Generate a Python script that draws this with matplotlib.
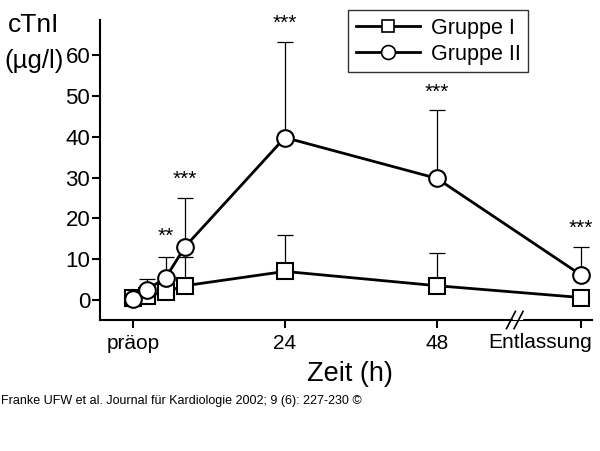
import matplotlib
matplotlib.use("Agg")
import matplotlib.pyplot as plt
from matplotlib.lines import Line2D

plt.rcParams['font.family'] = ['Liberation Sans', 'DejaVu Sans']

# time positions (h); Entlassung sits after the axis break
x_pos = [0, 2.2, 5.2, 8.2, 24, 48, 70.8]
x_ticks = [0, 24, 48, 70.8]
x_ticklabels = ["präop", "24", "48", ""]
last_label = "Entlassung"

# cTnI (ug/l)
g1_mean = [0.5, 1.0, 2.0, 3.5, 7.0, 3.5, 0.6]
g1_err = [0, 0, 0, 7.0, 9.0, 8.0, 0]
g2_mean = [0.3, 2.5, 5.5, 13.0, 39.8, 29.8, 6.1]
g2_err = [0, 2.7, 5.0, 12.0, 23.5, 16.7, 7.0]

# significance marks
stars_x = [5.2, 8.2, 24, 48, 70.8]
stars_y = [15.5, 29.6, 67.8, 50.8, 17.6]
stars_txt = ["**", "***", "***", "***", "***"]

fig = plt.figure(figsize=(6, 4.51), dpi=100)
ax = fig.add_axes([100/600, 1 - 320/451, 492/600, 300/451])

for m, e in [(g1_mean, g1_err), (g2_mean, g2_err)]:
    ax.errorbar(x_pos, m, yerr=[[0]*len(e), e], fmt='none', ecolor='black',
                elinewidth=0.9, capsize=6, capthick=0.9, zorder=2)

ax.plot(x_pos, g1_mean, color='black', lw=2, marker='s', ms=11.5,
        mfc='white', mec='black', mew=1.5, zorder=4)
ax.plot(x_pos, g2_mean, color='black', lw=2, marker='o', ms=12,
        mfc='white', mec='black', mew=1.5, zorder=5)

# gap in the lines before Entlassung
ax.axvspan(60.0, 61.4, color='white', zorder=3)

for sx, sy, st in zip(stars_x, stars_y, stars_txt):
    ax.text(sx, sy, st, ha='center', va='center', fontsize=15, clip_on=False)

ax.set_xlim(-5.2, 72.5)
ax.set_ylim(-4.9, 68.6)
ax.set_yticks(range(0, 61, 10))
ax.set_xticks(x_ticks)
ax.set_xticklabels(x_ticklabels)

for s in ['top', 'right']:
    ax.spines[s].set_visible(False)
ax.spines['left'].set_linewidth(1.5)
ax.spines['bottom'].set_linewidth(1.5)
ax.tick_params(axis='both', direction='out', length=6, width=1.5)
ax.tick_params(axis='y', pad=1, labelsize=16)
ax.tick_params(axis='x', pad=4, labelsize=15)

# Entlassung label sits left of its tick, against the right edge
fig.text(540/600, 1 - 343/451, last_label, fontsize=15, ha='center', va='center')

# axis break marks
for bx in [59.7, 60.9]:
    ax.plot([bx - 0.7, bx + 0.7], [-7.0, -2.8], color='black', lw=1.2,
            clip_on=False, zorder=6)

fig.text(8/600, 1 - 25/451, "cTnI", fontsize=19, va='center', ha='left')
fig.text(4/600, 1 - 61/451, "(\u00b5g/l)", fontsize=18.5, va='center', ha='left')
fig.text(350/600, 1 - 374/451, "Zeit (h)", fontsize=19.5, va='center', ha='center')
fig.text(1/600, 1 - 401/451, "Franke UFW et al. Journal für Kardiologie 2002; 9 (6): 227-230 \u00a9",
         fontsize=9, va='center', ha='left')

handles = [
    Line2D([], [], color='black', lw=2, marker='s', ms=9, mfc='white', mec='black', mew=1.2),
    Line2D([], [], color='black', lw=2, marker='o', ms=10, mfc='white', mec='black', mew=1.2),
]
leg = fig.legend(handles, ["Gruppe I", "Gruppe II"], loc='upper left',
                 bbox_to_anchor=(348/600, 1 - 10/451), fontsize=15.5,
                 frameon=True, fancybox=False, edgecolor='black',
                 handlelength=3.0, handletextpad=0.5, borderpad=0.35,
                 labelspacing=0.25, borderaxespad=0)
leg.get_frame().set_linewidth(1.0)

fig.savefig("out.png", dpi=100)
